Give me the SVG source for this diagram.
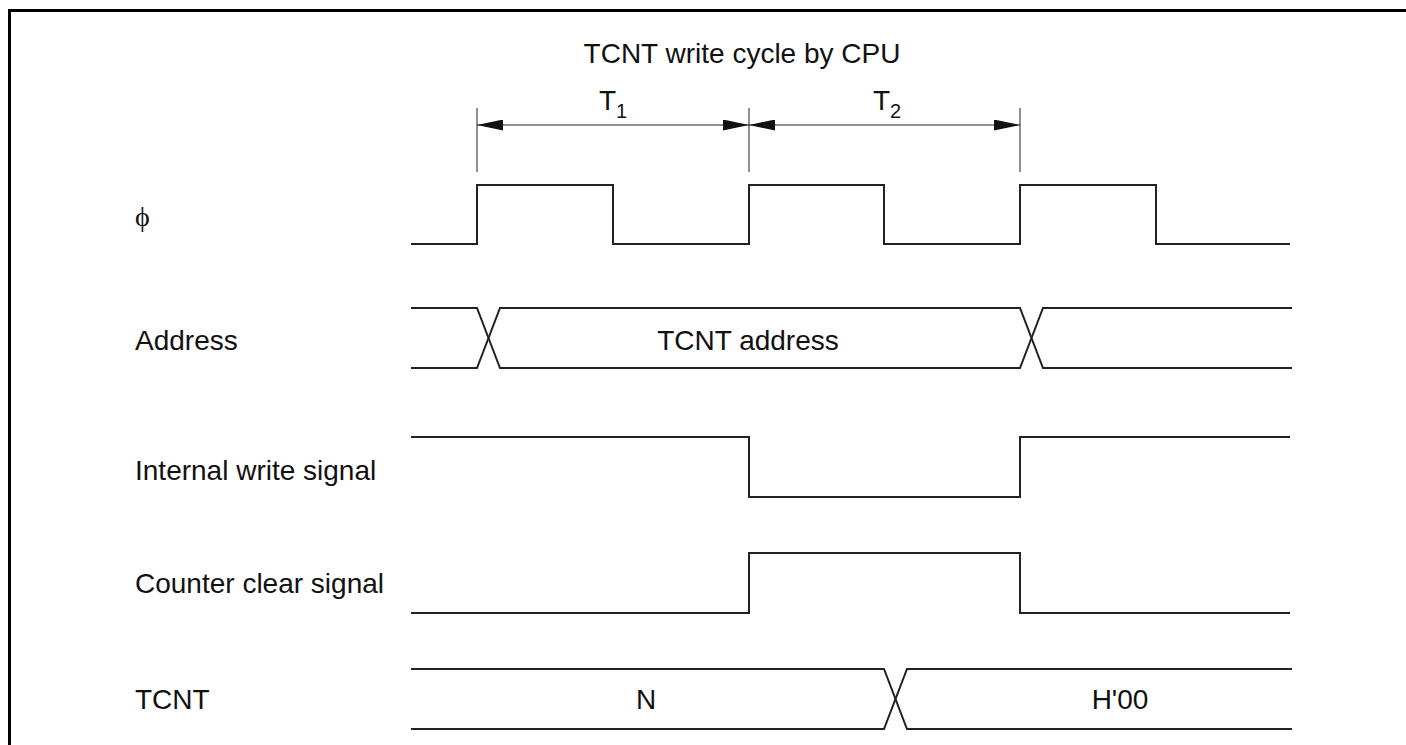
<svg xmlns="http://www.w3.org/2000/svg" width="1406" height="745" viewBox="0 0 1406 745">
<style>
.sig{fill:none;stroke:#222;stroke-width:2;stroke-linejoin:miter}
.dim{fill:none;stroke:#222;stroke-width:1}
.lbl{font-family:"Liberation Sans",Arial,sans-serif;font-size:28px;fill:#111}
.ctr{text-anchor:middle}
</style>
<defs>
<marker id="ah" viewBox="0 0 26 11" refX="26" refY="5.5" markerWidth="26" markerHeight="11" markerUnits="userSpaceOnUse" orient="auto-start-reverse">
<path d="M0,0 L26,5.5 L0,11 Z" fill="#111"/>
</marker>
</defs>
<rect width="1406" height="745" fill="#fff"/>
<path d="M9.5,745 V10.5 H1406" fill="none" stroke="#000" stroke-width="3"/>
<g id="title"><text class="lbl ctr" x="742" y="63">TCNT write cycle by CPU</text></g>
<g id="t1"><text class="lbl" x="599" y="110">T<tspan font-size="20" dy="8">1</tspan></text></g>
<g id="t2"><text class="lbl" x="873" y="110">T<tspan font-size="20" dy="8">2</tspan></text></g>
<g id="connectors">
<line class="dim" x1="477" y1="108" x2="477" y2="172"/>
<line class="dim" x1="749" y1="108" x2="749" y2="172"/>
<line class="dim" x1="1020" y1="108" x2="1020" y2="172"/>
<line class="dim" x1="477" y1="125" x2="749" y2="125" marker-start="url(#ah)" marker-end="url(#ah)"/>
<line class="dim" x1="749" y1="125" x2="1020" y2="125" marker-start="url(#ah)" marker-end="url(#ah)"/>
</g>
<g id="phi">
<text x="135" y="226" font-family="Liberation Serif,'DejaVu Serif',serif" font-size="28" fill="#111">ϕ</text>
<path class="sig" d="M411,244 H477 V185 H613 V244 H749 V185 H884 V244 H1020 V185 H1156 V244 H1290"/>
</g>
<g id="address">
<text class="lbl" x="135" y="350">Address</text>
<path class="sig" d="M411,308 H477 L500,368 H1020 L1043,308 H1292"/>
<path class="sig" d="M411,368 H477 L500,308 H1020 L1043,368 H1292"/>
<text class="lbl ctr" x="748" y="350">TCNT address</text>
</g>
<g id="write">
<text class="lbl" x="135" y="480">Internal write signal</text>
<path class="sig" d="M411,437 H749 V497 H1020 V437 H1290"/>
</g>
<g id="clear">
<text class="lbl" x="135" y="593">Counter clear signal</text>
<path class="sig" d="M411,613 H749 V553 H1020 V613 H1290"/>
</g>
<g id="tcnt">
<text class="lbl" x="135" y="709">TCNT</text>
<path class="sig" d="M411,669 H884 L907,729 H1292"/>
<path class="sig" d="M411,729 H884 L907,669 H1292"/>
<text class="lbl ctr" x="646" y="709">N</text>
<text class="lbl ctr" x="1120" y="709">H'00</text>
</g>
</svg>
